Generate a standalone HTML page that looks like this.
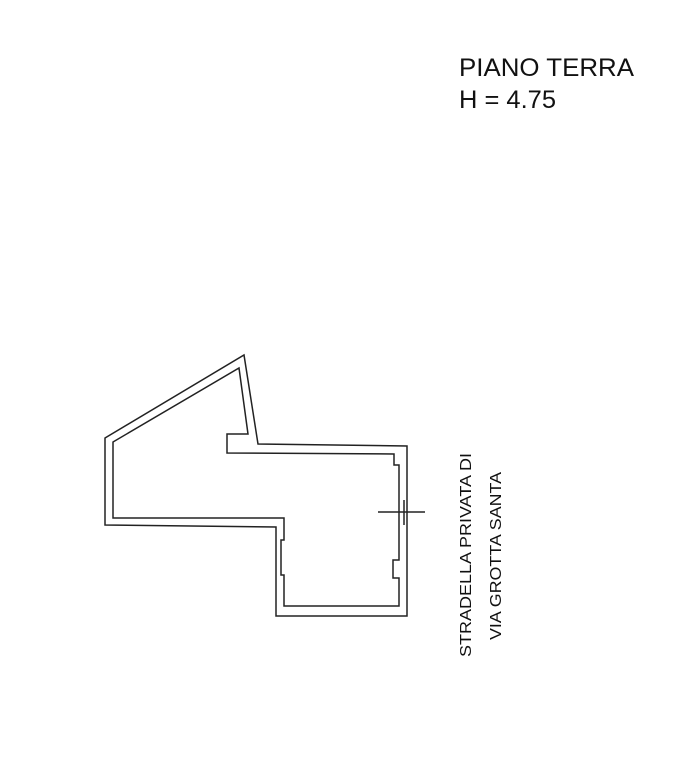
<!DOCTYPE html>
<html><head><style>html,body{margin:0;padding:0;background:#fff}</style></head>
<body>
<svg width="673" height="768" viewBox="0 0 673 768" xmlns="http://www.w3.org/2000/svg">
<g fill="none" stroke="#222" stroke-width="1.5">
<polygon points="105,438 244,355 258,444 407,446 407,616 276,616 276,527 105,525"/>
<polygon points="113,442 239,368 248,434 227,434 227,453 394,454 394,465 399,465 399,560 393,560 393,578 399,578 399,606 284,606 284,575 281,575 281,540 284,540 284,518 113,518"/>
<line x1="378" y1="512" x2="425" y2="512"/>
<line x1="404" y1="500" x2="404" y2="525"/>
</g>
<g font-family="Liberation Sans, Arial, sans-serif" fill="#111">
<text x="459" y="76" font-size="25" textLength="175" lengthAdjust="spacingAndGlyphs">PIANO TERRA</text>
<text x="459" y="108" font-size="25" textLength="97" lengthAdjust="spacingAndGlyphs">H = 4.75</text>
<text transform="translate(471,657) rotate(-90)" font-size="16" textLength="204" lengthAdjust="spacingAndGlyphs">STRADELLA PRIVATA DI</text>
<text transform="translate(501,640) rotate(-90)" font-size="16" textLength="168" lengthAdjust="spacingAndGlyphs">VIA GROTTA SANTA</text>
</g>
</svg>
</body></html>
